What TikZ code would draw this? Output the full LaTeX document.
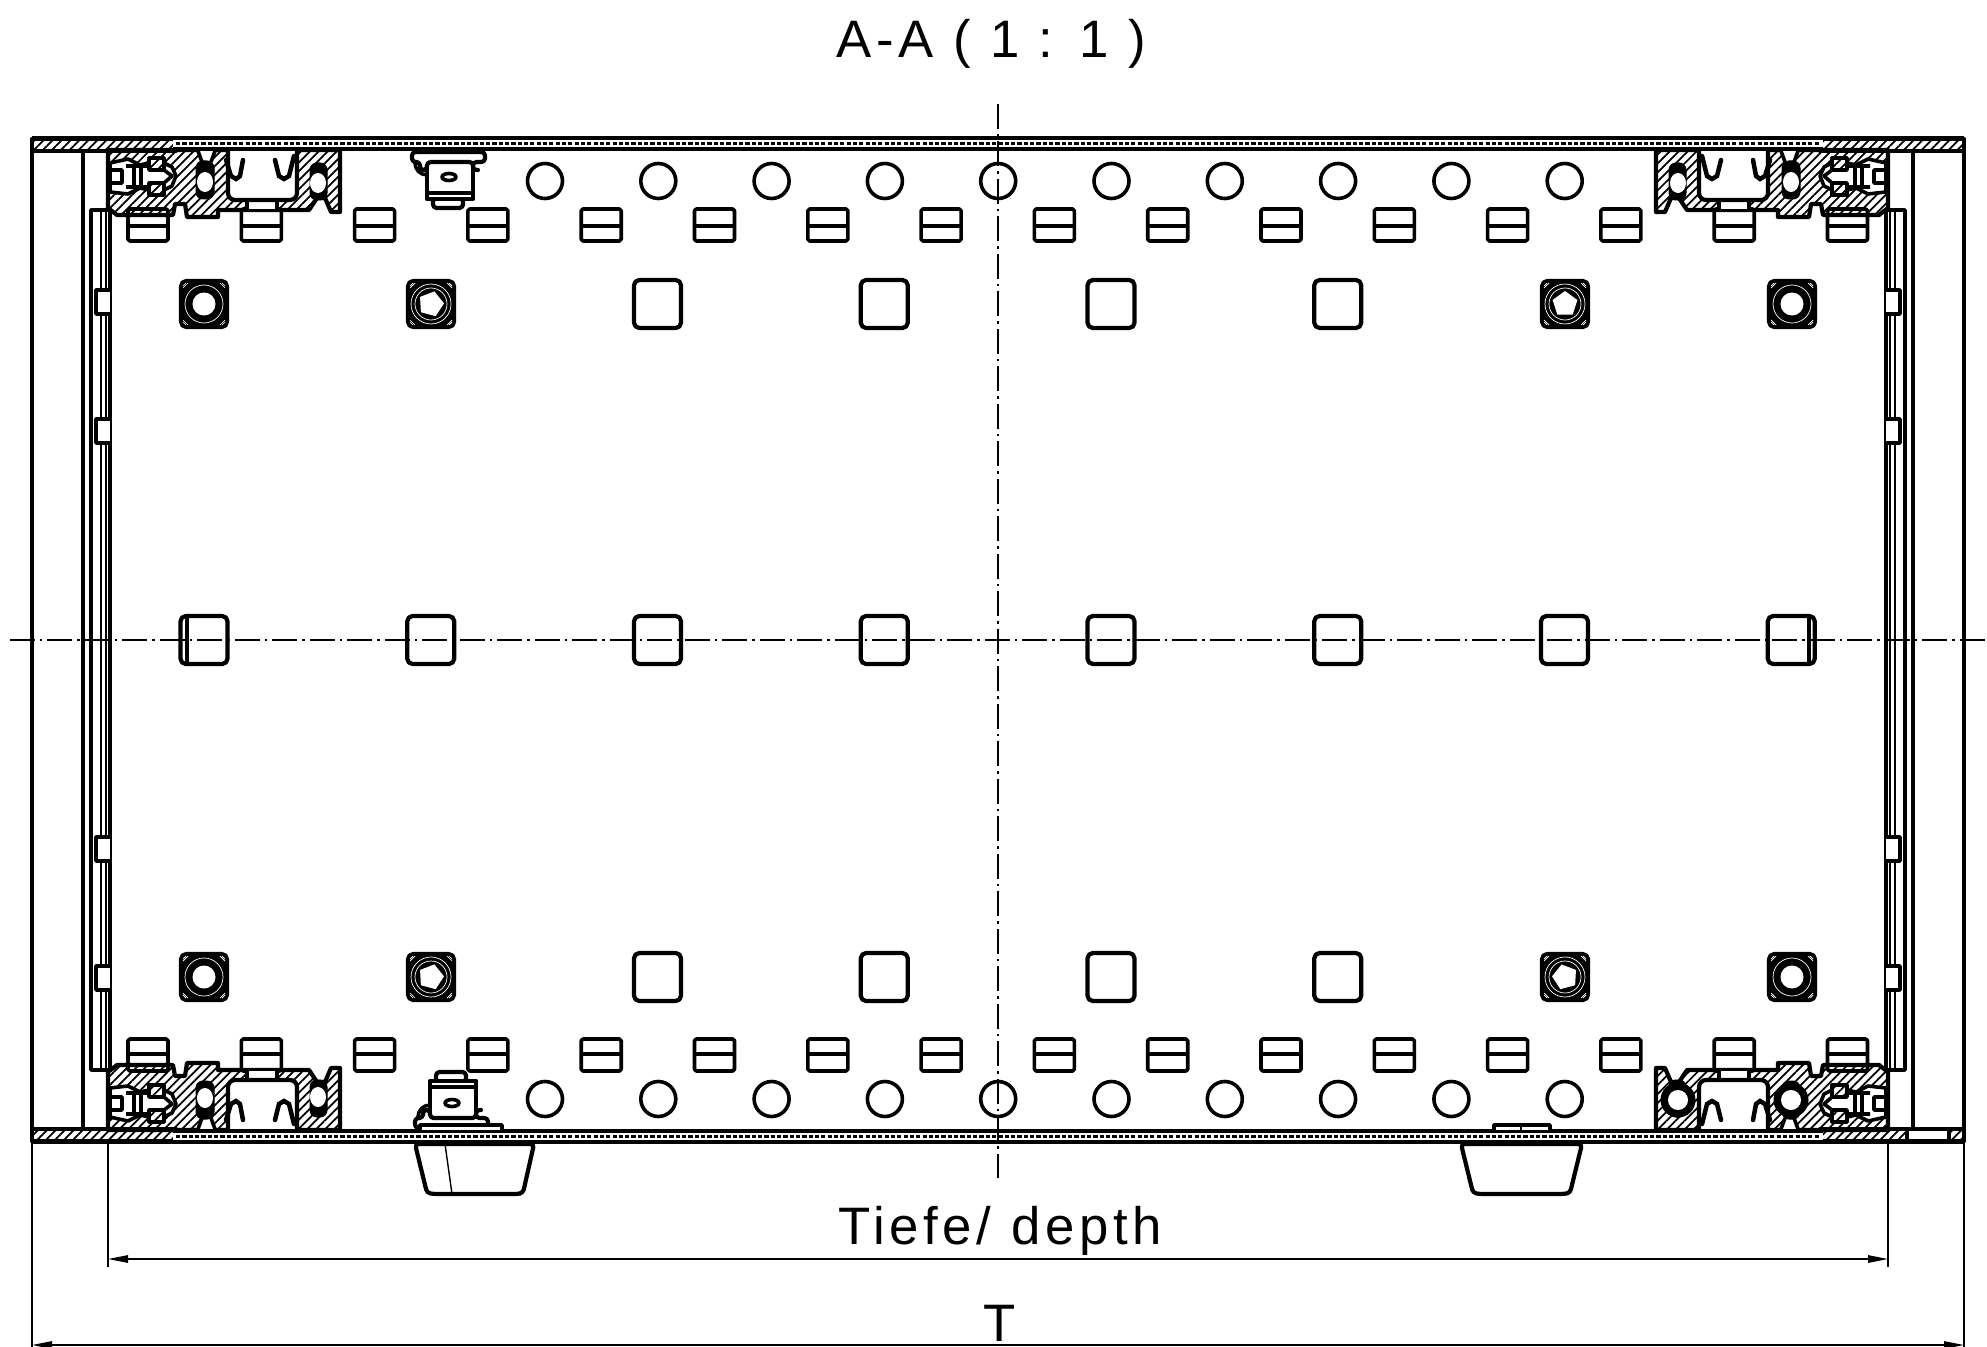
\documentclass[tikz,border=0pt]{standalone}
\usepackage{fontspec}
\newfontfamily\cadfont[LetterSpace=9]{Liberation Sans}
\usetikzlibrary{arrows.meta,patterns.meta}

\tikzset{
  heavy/.style={line width=.42mm,line join=round},
  medium/.style={line width=.36mm,line join=round},
  fine/.style={line width=.14mm},
  hatched/.style={pattern={Lines[angle=45,distance=1.8pt,line width=.5pt]}},
  sheetdash/.style={line width=.36mm,dash pattern=on 1.2pt off .6pt},
  centerline/.style={line width=.16mm,dash pattern=on 2.5mm off .5mm on .25mm off .5mm},
  dimline/.style={fine,{Triangle[length=2mm,width=.75mm]}-{Triangle[length=2mm,width=.75mm]}},
  cadtext/.style={font=\cadfont\fontsize{15}{18}\selectfont,inner sep=0pt},
  plainsq/.style={heavy,rounded corners=1.5pt,fill=white},
  blacksq/.style={heavy,rounded corners=1.5pt,fill=black},
}

% corner profile, drawn at the top left; the others are mirrored
\newcommand{\cornerprofile}{
  \draw[heavy,hatched] (108,150) -- (340,150) -- (340,212) -- (331,212) -- (325,198) -- (317,198)
    -- (309,210) -- (218,210) -- (218,217) -- (187,217) -- (185,204) -- (175,204) -- (173,215)
    -- (117,215) -- (108,208) -- cycle;
  % slot with the two hooks
  \fill[white] (247,198) rectangle (277,209);
  \draw[medium] (247,200) -- (247,209) (277,200) -- (277,209);
  \draw[heavy,fill=white,rounded corners=2pt] (228,146) -- (228,200) -- (297,200) -- (297,146);
  \draw[line width=.45mm,line cap=round] (226,160) -- (231,176) -- (236,179) -- (240,176) -- (243,160);
  \draw[line width=.45mm,line cap=round] (275,160) -- (279,176) -- (284,179) -- (289,176) -- (294,156);
  % the two grooves
  \fill[white] (198,151) -- (215,151) -- (211,164) -- (202,164) -- cycle;
  \draw[medium] (198,151) -- (202,162) (215,151) -- (211,162);
  \draw[line width=.1mm,fill=black,rounded corners=2pt] (196,161) rectangle (214,199);
  \fill[white] (205,182) ellipse (8 and 10);
  \draw[line width=.1mm,fill=black,rounded corners=2pt] (310,163) rectangle (327,200);
  \fill[white] (318,183) ellipse (8 and 10);
  % fastener
  \draw[medium,fill=white] (110,163) -- (128,159) -- (140,165) -- (149,163) -- (149,158) -- (164,158)
    -- (164,163) -- (172,167) -- (176,176) -- (172,186) -- (164,190) -- (164,195) -- (149,195)
    -- (149,190) -- (140,188) -- (128,194) -- (110,192) -- cycle;
  \draw[medium,hatched] (149,158) rectangle (164,170);
  \draw[medium,hatched] (149,183) rectangle (164,195);
  \draw[medium] (126,166) -- (149,166) (126,187) -- (149,187) (134,166) -- (134,187) (141,166) -- (141,187)
    (110,170) -- (122,170) -- (122,183) -- (110,183) (164,170) -- (172,176) -- (164,183);
}

% spring clip, drawn at the top
\newcommand{\springclip}{
  \draw[medium] (427,175) arc (90:270:12);
  \draw[heavy,fill=white,rounded corners=1pt] (433,198) rectangle (463,208);
  \draw[heavy,fill=white] (427,162) rectangle (473,199);
  \draw[heavy,fill=white,rounded corners=1pt] (412,152) -- (485,152) -- (485,162) -- (473,162) -- (473,170)
    -- (480,170) -- (473,170) -- (473,162) -- (427,162) -- (427,170) -- (420,170) -- (420,162) -- (412,162) -- cycle;
  \draw[heavy] (427,193) -- (473,193);
  \draw[medium] (449,177) ellipse (7 and 3.5);
}

\begin{document}
\begin{tikzpicture}[x=.1mm,y=-.1mm]
  \useasboundingbox (0,0) rectangle (1987,1347);
  \fill[white] (0,0) rectangle (1987,1347);

  % side walls and panel strips
  \draw[medium] (32,138) -- (32,1142) (1964,138) -- (1964,1142);
  \draw[heavy] (83,150) -- (83,1130) (1913,150) -- (1913,1130);
  \foreach \side in {0,1}{
    \begin{scope}[shift={(1996*\side,0)},xscale=1-2*\side]
      \draw[medium] (110,210) -- (91,210) -- (91,1070) -- (110,1070) -- cycle;
      \draw[fine] (101,210) -- (101,1070) (106,210) -- (106,1070);
      \foreach \ty in {302,431,849,978}
        \draw[medium,fill=white] (110,\ty-12) -- (96,\ty-12) -- (96,\ty+12) -- (110,\ty+12);
    \end{scope}
  }

  % flanges
  \draw[heavy,hatched] (32,139) rectangle (176,151);
  \draw[heavy,hatched] (1820,139) rectangle (1964,151);
  \draw[heavy,hatched] (32,1129) rectangle (176,1141);
  \draw[heavy,hatched] (1820,1129) rectangle (1964,1141);
  \draw[heavy,fill=white] (1907,1129) rectangle (1949,1141);

  % tabs
  \foreach \i in {0,...,15}{
    \draw[medium,fill=white,rounded corners=.5pt] (148+113.3*\i-20,209) rectangle (148+113.3*\i+20,241);
    \draw[medium] (148+113.3*\i-20,226) -- (148+113.3*\i+20,226);
    \draw[medium,fill=white,rounded corners=.5pt] (148+113.3*\i-20,1039) rectangle (148+113.3*\i+20,1071);
    \draw[medium] (148+113.3*\i-20,1054) -- (148+113.3*\i+20,1054);
  }

  % the four corner profiles
  \cornerprofile
  \begin{scope}[shift={(1996,0)},xscale=-1]
    \cornerprofile
  \end{scope}
  \begin{scope}[shift={(0,1280)},yscale=-1]
    \cornerprofile
  \end{scope}
  \begin{scope}[shift={(1996,1280)},xscale=-1,yscale=-1]
    \cornerprofile
    \foreach \cx in {205,318}{
      \draw[line width=.1mm,fill=black] (\cx,180) circle (17);
      \fill[white] (\cx,180) circle (10);
    }
  \end{scope}

  % top and bottom sheets
  \fill[white] (173,139) rectangle (1823,150);
  \draw[medium] (32,138) -- (1964,138);
  \draw[line width=.46mm] (173,149) -- (1823,149);
  \draw[sheetdash] (176,143.5) -- (1820,143.5);
  \fill[white] (173,1130) rectangle (1823,1141);
  \draw[medium] (32,1142) -- (1964,1142);
  \draw[line width=.46mm] (173,1131) -- (1823,1131);
  \draw[sheetdash] (176,1136.5) -- (1820,1136.5);

  % spring clips
  \springclip
  \begin{scope}[shift={(3,1280)},yscale=-1]
    \springclip
  \end{scope}
  \draw[medium,fill=white] (420,1130) -- (420,1125) -- (502,1125) -- (502,1130);
  \draw[medium,fill=white] (1494,1130) -- (1494,1125) -- (1550,1125) -- (1550,1130);
  \draw[fine] (1521,1125) -- (1521,1130);

  % round holes
  \foreach \i in {0,...,9}{
    \draw[medium] (545+113.3*\i,181) circle (17.5);
    \draw[medium] (545+113.3*\i,1099) circle (17.5);
  }

  % square holes of the three rows
  \foreach \i in {0,...,7}
    \draw[plainsq] (204+226.75*\i-23.5,616) rectangle (204+226.75*\i+23.5,664);
  \draw[medium] (187,616) -- (187,664) (1809,616) -- (1809,664);
  \foreach \i in {2,...,5}{
    \draw[plainsq] (204+226.75*\i-23.5,280) rectangle (204+226.75*\i+23.5,328);
    \draw[plainsq] (204+226.75*\i-23.5,953) rectangle (204+226.75*\i+23.5,1001);
  }

  % bolts with a round bore
  \foreach \bx/\by in {204/304,1792/304,204/977,1792/977}{
    \draw[blacksq] (\bx-23,\by-23) rectangle (\bx+23,\by+23);
    \draw[white,line width=.07mm] (\bx,\by) circle (19);
    \foreach \sx/\sy in {-1/-1,1/-1,-1/1,1/1}
      \draw[white,line width=.07mm] (\bx+\sx*18,\by+\sy*21) -- (\bx+\sx*21,\by+\sy*18)
        (\bx+\sx*16,\by+\sy*21) -- (\bx+\sx*21,\by+\sy*16);
    \fill[white] (\bx,\by) circle (11.5);
  }
  % bolts with a pentagon socket
  \foreach \bx/\by/\rot in {431/304/15,1565/304/0,431/977/15,1565/977/-15}{
    \draw[blacksq] (\bx-23,\by-23) rectangle (\bx+23,\by+23);
    \draw[white,line width=.07mm] (\bx,\by) circle (20) (\bx,\by) circle (16);
    \foreach \sx/\sy in {-1/-1,1/-1,-1/1,1/1}
      \draw[white,line width=.07mm] (\bx+\sx*18,\by+\sy*21) -- (\bx+\sx*21,\by+\sy*18)
        (\bx+\sx*16,\by+\sy*21) -- (\bx+\sx*21,\by+\sy*16);
    \fill[white] (\bx,\by) ++(-90+\rot:13) -- ++(36+\rot:15.3) -- ++(108+\rot:15.3) -- ++(180+\rot:15.3) -- ++(252+\rot:15.3) -- cycle;
  }

  % feet below the door
  \draw[heavy,rounded corners=1pt] (415,1144) -- (427,1193) -- (434,1194) -- (517,1194) -- (523,1193) -- (534,1144) -- cycle;
  \draw[fine] (445,1144) -- (452,1194);
  \draw[heavy,rounded corners=1pt] (1461,1144) -- (1473,1193) -- (1480,1194) -- (1563,1194) -- (1570,1193) -- (1582,1144) -- cycle;

  % centre lines
  \draw[centerline] (998,104) -- (998,1178);
  \draw[centerline] (10,640) -- (1987,640);

  % dimensions
  \coordinate (depthleft) at (108,1259);
  \coordinate (depthright) at (1888,1259);
  \coordinate (totalleft) at (32,1345);
  \coordinate (totalright) at (1964,1345);
  \draw[fine] (108,1142) -- (108,1267) (1888,1142) -- (1888,1267);
  \draw[fine] (32,1142) -- (32,1347) (1964,1142) -- (1964,1347);
  \draw[dimline] (depthleft) -- (depthright);
  \draw[dimline] (totalleft) -- (totalright);

  \node[cadtext] (title) at (991,44) {A-A ( 1 : 1 )};
  \node[cadtext] (depthlabel) at (1000,1231) {Tiefe/ depth};
  \node[cadtext] (totallabel) at (1000,1323) {T};
\end{tikzpicture}
\end{document}
